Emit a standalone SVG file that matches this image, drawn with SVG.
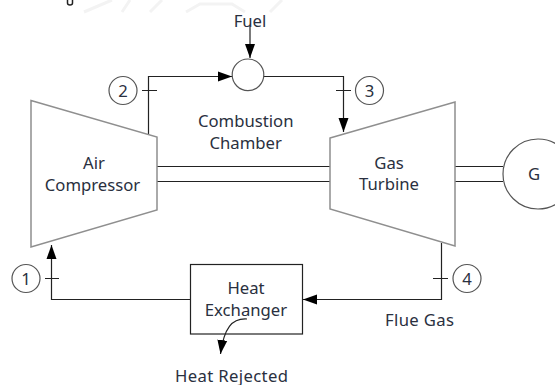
<svg xmlns="http://www.w3.org/2000/svg" width="555" height="385" viewBox="0 0 555 385">
<style>
.s{fill:#fff;stroke:#555;stroke-width:1.2}
.g{fill:#fff;stroke:#8f8f8f;stroke-width:1.5}
.l{fill:none;stroke:#222;stroke-width:1.2}
.w{fill:none;stroke:#f3f3f3;stroke-width:3}
.t{font-family:"Noto Sans","Open Sans",sans-serif;font-size:16.7px;fill:#2a3040;text-anchor:middle}
</style>
<defs><marker id="a" markerUnits="userSpaceOnUse" markerWidth="15" markerHeight="11" refX="14" refY="5.500" orient="auto"><path d="M0 .5L14 5.500L0 10.500Z" fill="#000"/></marker></defs>
<rect width="555" height="385" fill="#fff"/>
<path class="w" d="M84 12L112 0M122 12L130 0M150 12L162 0M186 12L200 4H232L245 12M270 12L282 0"/>
<path d="M67.500 0V3A2.500 2 0 0 0 72.500 3V0" fill="none" stroke="#222" stroke-width="1.500"/>
<g id="connectors">
<path class="l" d="M250 26V58" marker-end="url(#a)"/>
<path class="l" d="M148.500 135V76.500H232" marker-end="url(#a)"/>
<path class="l" d="M264 76.500H343.500V132" marker-end="url(#a)"/>
<path class="l" d="M441.500 243V299.500H303" marker-end="url(#a)"/>
<path class="l" d="M191 299.500H51.500V245" marker-end="url(#a)"/>
<path class="l" d="M157 166.500H330M157 181.500H330M455 166.500H503M455 181.500H503"/>
<path class="l" d="M142 90.500H157M336 90.500H351M433 278.500H448M45 278.500H59"/>
<path class="l" d="M247 319C232 318 224 328 220.500 354" marker-end="url(#a)"/>
</g>
<g id="compressor"><path class="g" d="M31 100.500L157 137V210L31 247Z"/><text class="t" x="94" y="169">Air</text><text class="t" x="92.500" y="190.500">Compressor</text></g>
<g id="turbine"><path class="g" d="M330 138L455 102V246L330 209Z"/><text class="t" x="389" y="168.500">Gas</text><text class="t" x="389" y="190">Turbine</text></g>
<g id="combustor"><circle class="s" cx="248" cy="74.800" r="15.800"/><text class="t" x="245.700" y="127">Combustion</text><text class="t" x="245.700" y="149">Chamber</text></g>
<g id="generator"><circle class="s" cx="538" cy="174" r="35"/><text class="t" x="534" y="179.500">G</text></g>
<g id="exchanger"><rect x="190.500" y="264.500" width="112" height="69.500" fill="none" stroke="#222" stroke-width="1.200"/><text class="t" x="246" y="294">Heat</text><text class="t" x="246" y="316">Exchanger</text></g>
<g id="s1"><circle class="s" cx="26" cy="278.500" r="14"/><text class="t" x="26" y="284.500">1</text></g>
<g id="s2"><circle class="s" cx="123" cy="90.500" r="14"/><text class="t" x="123" y="96.500">2</text></g>
<g id="s3"><circle class="s" cx="369.500" cy="90.500" r="14"/><text class="t" x="369.500" y="96.500">3</text></g>
<g id="s4"><circle class="s" cx="467" cy="278.500" r="14"/><text class="t" x="467" y="284.500">4</text></g>
<text class="t" x="250" y="26.500">Fuel</text>
<text class="t" x="419.500" y="325.500" textLength="69">Flue Gas</text>
<text class="t" x="231.500" y="381.500" textLength="113">Heat Rejected</text>
</svg>
